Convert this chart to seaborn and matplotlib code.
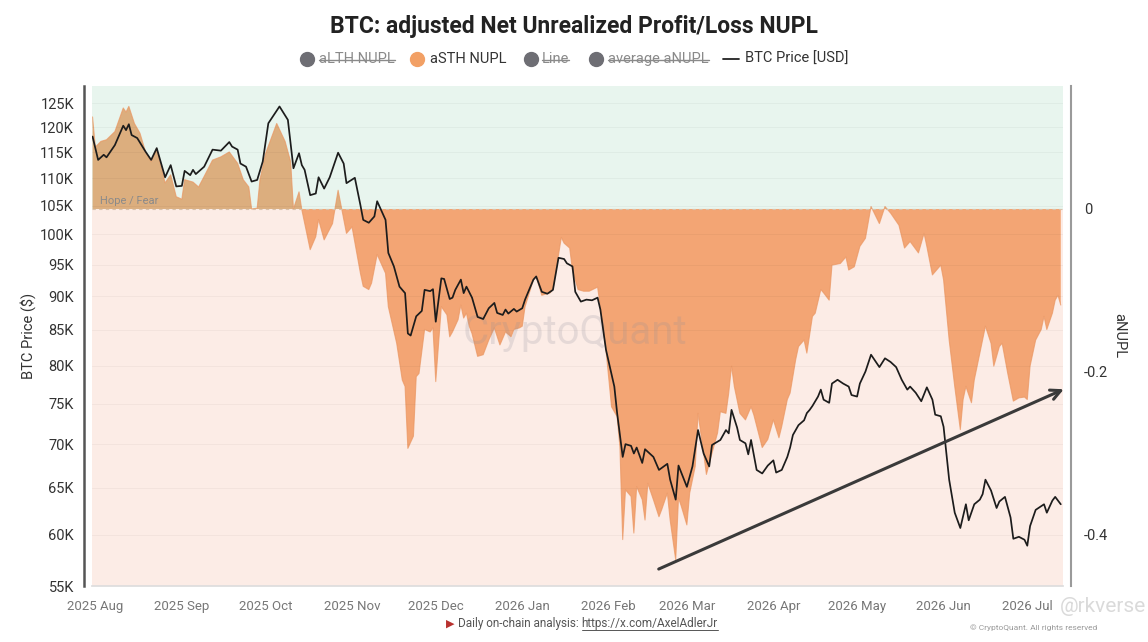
import numpy as np
import pandas as pd
import matplotlib
matplotlib.use("Agg")
import matplotlib.pyplot as plt
import matplotlib.dates as mdates
import matplotlib.ticker as mticker
from matplotlib.lines import Line2D
import seaborn as sns

# ---- data (days counted from 2025-08-01) ----
price_day = [-1, 1, 3, 4, 7, 10, 11, 12, 13, 15, 18, 20, 22, 25, 27, 29, 31, 32, 34, 35,
             36, 39, 42, 45, 48, 49, 51, 52, 54, 56, 58, 60, 62, 66, 69, 71, 73, 74, 75, 77,
             79, 80, 82, 84, 87, 89, 90, 93,
             95, 96, 98, 100, 101, 104, 105, 107, 109, 111, 112, 113, 115, 117, 118, 120, 121, 122, 124, 125,
             127, 128, 129, 131, 132, 133, 135, 137, 139, 141, 143, 144, 146, 147, 148, 150, 151, 153, 154, 157,
             158, 160, 162, 164, 166, 168, 169, 171, 172, 174,
             176, 178, 180, 181, 183, 186, 187, 189, 190, 192, 193, 194, 196, 197, 200, 202, 205, 206, 208, 209,
             212, 214, 216, 218, 220, 221, 224, 226, 227, 228, 230, 231, 233, 234,
             235, 237, 239, 241, 243, 244, 246, 248, 249, 250, 252, 254, 255, 256, 257, 258, 259, 260, 261, 263,
             264, 266, 268, 270, 271, 273, 274, 276, 278, 281, 283, 285, 287, 289, 291, 292, 294, 296, 298, 300,
             301, 303, 304, 306, 308, 310, 312, 313, 315, 317, 318, 319, 321, 323, 324, 326, 328, 329, 331, 333,
             334, 335, 337, 340, 341, 343, 344, 346]
price_k = [118.1, 113.5, 114.5, 114.0, 116.4, 120.3, 119.4, 120.6, 118.4, 117.8, 115.1, 113.5, 115.8, 110.2, 112.5, 108.5, 108.6, 111.4, 110.6, 111.6,
           110.8, 112.2, 115.5, 115.3, 117.0, 116.1, 115.5, 112.8, 112.2, 109.4, 109.7, 113.2, 120.8, 124.3, 121.5, 111.9, 114.8, 112.5, 111.6, 106.9,
           107.2, 110.2, 108.1, 110.2, 114.9, 112.8, 109.1, 110.1,
           105.1, 102.5, 102.0, 103.1, 105.8, 102.5, 96.9, 94.7, 91.5, 90.5, 84.5, 84.2, 87.0, 87.8, 91.0, 90.8, 91.1, 86.2, 92.8, 92.7,
           89.6, 89.8, 91.0, 92.6, 90.5, 91.5, 89.8, 86.9, 86.6, 88.2, 89.0, 87.5, 87.2, 88.0, 87.4, 88.1, 87.7, 88.2, 89.5, 92.6,
           93.1, 90.7, 90.4, 91.0, 96.1, 95.9, 95.2, 94.7, 90.7, 89.2,
           89.5, 89.4, 89.8, 88.0, 82.2, 77.2, 73.8, 68.5, 70.0, 69.8, 68.9, 69.6, 67.8, 69.4, 68.5, 67.0, 67.7, 65.9, 63.7, 67.5,
           65.1, 67.4, 71.7, 68.9, 67.4, 69.9, 70.5, 71.7, 71.3, 74.2, 72.0, 70.5, 70.1, 68.8,
           70.5, 67.0, 66.6, 67.5, 68.1, 66.7, 67.0, 68.5, 69.6, 71.1, 72.3, 72.9, 73.8, 74.2, 74.7, 75.3, 75.9, 76.8, 75.5, 75.1,
           77.6, 78.1, 77.6, 77.2, 76.1, 75.9, 77.6, 79.2, 81.5, 79.8, 81.0, 80.5, 79.8, 78.1, 76.8, 77.2, 76.4, 75.3, 77.1, 75.5,
           73.6, 73.4, 72.1, 65.9, 62.3, 60.7, 63.2, 61.5, 63.2, 63.7, 64.3, 65.9, 64.7, 62.8, 63.5, 64.0, 61.8, 59.6, 59.8, 59.5,
           58.9, 60.9, 62.6, 63.2, 62.3, 63.6, 64.0, 63.2]

nupl_day = [-1, 0, 2, 4, 7, 10, 11, 12, 14, 16, 18, 20, 22, 25, 27, 29, 31, 32, 35, 37,
            39, 42, 45, 48, 51, 53, 55, 56, 58, 59, 61, 65, 68, 70, 71, 73, 74,
            77, 79, 80, 82, 85, 87, 90, 92,
            95, 96, 98, 99, 101, 104, 105, 108, 110, 111, 112, 114, 115, 116, 118, 120, 121, 122, 124, 126,
            127, 128, 130, 131, 132, 133, 134, 135, 137, 139, 141, 143, 145, 146, 147, 149, 150, 152, 153, 154,
            157, 158, 160, 163, 164, 167, 168, 170, 171, 173,
            175, 177, 180, 181, 183, 185, 187, 188, 189, 190, 192, 193, 194, 196, 197, 198, 200, 202, 203, 205,
            206, 208, 209, 210, 212, 213, 215, 216, 218, 219, 221, 223, 224, 226, 227, 228, 229, 231, 233, 235,
            236, 239, 241, 243, 245, 246, 248, 249, 251, 252, 254, 255, 257, 258, 260, 261, 263, 264, 267, 269,
            270, 272, 274, 276, 278, 281, 283, 285, 288, 290, 292, 295, 297, 298, 300, 303, 304, 306, 308, 310,
            311, 312, 314, 315, 317, 319, 321, 322, 324, 325, 327, 329, 331, 333, 334, 335, 337, 339, 340, 341,
            343, 344, 345, 346]
nupl_val = [0.113, 0.076, 0.083, 0.085, 0.095, 0.124, 0.119, 0.126, 0.105, 0.093, 0.070, 0.058, 0.074, 0.032, 0.042, 0.015, 0.012, 0.036, 0.033, 0.027,
            0.040, 0.060, 0.064, 0.070, 0.056, 0.036, 0.027, 0.0, 0.001, 0.036, 0.068, 0.105, 0.083, 0.058, 0.0, 0.021, -0.001,
            -0.050, -0.034, -0.013, -0.038, -0.018, 0.023, -0.030, -0.022,
            -0.079, -0.095, -0.099, -0.091, -0.056, -0.079, -0.120, -0.165, -0.210, -0.218, -0.294, -0.279, -0.206, -0.202, -0.148, -0.151, -0.146, -0.212, -0.120, -0.130,
            -0.157, -0.151, -0.136, -0.118, -0.134, -0.128, -0.144, -0.153, -0.181, -0.179, -0.161, -0.146, -0.167, -0.159, -0.151, -0.157, -0.148, -0.146, -0.144, -0.120,
            -0.087, -0.083, -0.106, -0.103, -0.099, -0.035, -0.042, -0.048, -0.075, -0.099,
            -0.101, -0.101, -0.096, -0.120, -0.173, -0.243, -0.255, -0.292, -0.406, -0.345, -0.353, -0.398, -0.341, -0.357, -0.382, -0.337, -0.357, -0.378, -0.369, -0.349,
            -0.382, -0.431, -0.355, -0.365, -0.388, -0.349, -0.316, -0.251, -0.300, -0.326, -0.300, -0.275, -0.249, -0.251, -0.226, -0.193, -0.218, -0.251, -0.259, -0.243,
            -0.253, -0.293, -0.283, -0.259, -0.281, -0.267, -0.234, -0.226, -0.185, -0.169, -0.161, -0.177, -0.132, -0.128, -0.099, -0.103, -0.112, -0.069, -0.067, -0.059,
            -0.075, -0.071, -0.046, -0.036, 0.003, -0.018, 0.003, -0.005, -0.020, -0.048, -0.040, -0.054, -0.030, -0.046, -0.081, -0.069, -0.087, -0.161, -0.218, -0.271,
            -0.234, -0.218, -0.238, -0.210, -0.177, -0.144, -0.165, -0.193, -0.169, -0.165, -0.202, -0.236, -0.232, -0.231, -0.234, -0.193, -0.161, -0.148, -0.132, -0.148,
            -0.128, -0.112, -0.106, -0.118]

price_ticks = [55000, 60000, 65000, 70000, 75000, 80000, 85000, 90000, 95000,
               100000, 105000, 110000, 115000, 120000, 125000]
nupl_ticks = [0, -0.2, -0.4]
nupl_tick_labels = ["0", "-0.2", "-0.4"]

trend_dates = ["2026-02-18", "2026-07-15"]
trend_prices = [56500, 77000]

legend_labels = ["aLTH NUPL", "aSTH NUPL", "Line", "average aNUPL", "BTC Price [USD]"]

GREEN = "#e8f5ee"
PINK = "#fcece6"
ORANGE = "#f3a574"
TAN = "#dcae7e"
EDGE = "#ea9560"

sns.set_theme(style="white")
plt.rcParams['font.family'] = ['Roboto', 'DejaVu Sans']

base = pd.Timestamp("2025-08-01")
price = pd.DataFrame({"date": base + pd.to_timedelta(price_day, unit="D"),
                      "price": np.array(price_k) * 1000})
nupl = pd.DataFrame({"date": base + pd.to_timedelta(nupl_day, unit="D"),
                     "anupl": nupl_val})

W, H = 1148, 642
fig = plt.figure(figsize=(W / 100, H / 100), dpi=100)
ax = fig.add_axes([92 / W, 56 / H, 971 / W, 500 / H])
ax2 = ax.twinx()
ax.yaxis.tick_right()
ax.yaxis.set_label_position('right')
ax2.yaxis.tick_left()
ax2.yaxis.set_label_position('left')

# aNUPL side (background zones + area)
ylo, yhi = -0.463, 0.151
ax.axhspan(0, yhi, color=GREEN, lw=0, zorder=0)
ax.axhspan(ylo, 0, color=PINK, lw=0, zorder=0)
d = nupl["date"]
v = nupl["anupl"].to_numpy()
ax.fill_between(d, v, 0, where=v >= 0, interpolate=True, color=TAN, lw=0, zorder=1)
ax.fill_between(d, v, 0, where=v <= 0, interpolate=True, color=ORANGE, lw=0, zorder=1)
sns.lineplot(data=nupl, x="date", y="anupl", ax=ax, color=EDGE, lw=0.8, alpha=0.7, zorder=2)
ax.axhline(0, color="#d8c2ac", lw=0.8, ls=(0, (3, 3)), zorder=2)
ax.text(base + pd.Timedelta(days=1.5), 0.004, "Hope / Fear", fontsize=8, color="#8a8a8a",
        va="bottom", ha="left", zorder=3)

ax.set_ylim(ylo, yhi)
ax.set_xlim(base - pd.Timedelta(days=1.2), base + pd.Timedelta(days=346.8))
ax.set_yticks(nupl_ticks)
ax.set_yticklabels(nupl_tick_labels)
ax.set_ylabel("aNUPL", rotation=270, fontsize=10.5, color="#333333", labelpad=13)
ax.set_xlabel("")
ax.xaxis.set_major_locator(mdates.MonthLocator())
ax.xaxis.set_major_formatter(mdates.DateFormatter("%Y %b"))
ax.tick_params(axis="x", length=4, color="#dddddd", labelsize=9.5, labelcolor="#777777", pad=6)
ax.tick_params(axis="y", length=0, labelsize=10.5, labelcolor="#333333", pad=9)

# price side
sns.lineplot(data=price, x="date", y="price", ax=ax2, color="#1c1c1c", lw=1.25, zorder=4)
ax2.set_yscale("log")
ax2.set_ylim(55000, 128700)
ax2.yaxis.set_major_locator(mticker.FixedLocator(price_ticks))
ax2.yaxis.set_major_formatter(mticker.FuncFormatter(lambda x, p: f"{int(round(x / 1000))}K"))
ax2.yaxis.set_minor_locator(mticker.NullLocator())
ax2.tick_params(axis="y", length=0, labelsize=10.5, labelcolor="#333333", pad=7)
ax2.set_ylabel("BTC Price ($)", fontsize=10.5, color="#333333", labelpad=3)
ax2.grid(axis="y", color="#000000", alpha=0.035, lw=0.8)
ax2.set_xlim(ax.get_xlim())

ax2.annotate("", xy=(pd.Timestamp(trend_dates[1]), trend_prices[1]),
             xytext=(pd.Timestamp(trend_dates[0]), trend_prices[0]),
             arrowprops=dict(arrowstyle="->", color="#3a3a3a", lw=2.2, mutation_scale=18),
             annotation_clip=False, zorder=5)

ax2.text(0.497, 0.506, "CryptoQuant", transform=ax2.transAxes, fontsize=29,
         color="#8c8c9a", alpha=0.2, ha="center", va="center", zorder=3)

# spines
for s in ["top", "left"]:
    ax.spines[s].set_visible(False)
ax.spines["bottom"].set_color("#dddddd")
ax.spines["right"].set_position(("outward", 6))
ax.spines["right"].set_color("#9a9a9a")
ax.spines["right"].set_linewidth(1.5)
for s in ["top", "right", "bottom"]:
    ax2.spines[s].set_visible(False)
ax2.spines["left"].set_position(("outward", 6))
ax2.spines["left"].set_color("#555555")
ax2.spines["left"].set_linewidth(1.8)

# title
fig.text(0.5, 1 - 26 / H, "BTC: adjusted Net Unrealized Profit/Loss NUPL", ha="center", va="center",
         fontsize=16.5, weight="bold", color="#222222")

# legend (drawn by hand so hidden series can be struck through)
ly = 1 - 59 / H
marker_x = [307, 417, 531, 596]
text_x = [319, 430, 542, 608, 745]
marker_col = ["#6e6e74", "#f2a065", "#6e6e74", "#6e6e74"]
struck = [True, False, True, True, False]
leg_texts = []
for i, lab in enumerate(legend_labels):
    if i < 4:
        fig.add_artist(Line2D([marker_x[i] / W], [ly], marker="o", ms=10, color=marker_col[i],
                              lw=0, transform=fig.transFigure))
    else:
        fig.add_artist(Line2D([723 / W, 739 / W], [ly, ly], color="#222222", lw=1.3,
                              transform=fig.transFigure))
    t = fig.text(text_x[i] / W, ly, lab, ha="left", va="center", fontsize=10.5,
                 color="#8a8a8a" if struck[i] else "#333333")
    leg_texts.append(t)

# footer
fig.text(446 / W, 1 - 624 / H, "\u25B6", color="#b8312f", fontsize=8, ha="left", va="center",
         family=["DejaVu Sans"])
pre = fig.text(458 / W, 1 - 624 / H, "Daily on-chain analysis: ", fontsize=8.5, color="#555555",
               ha="left", va="center")
fig.text(1097 / W, 1 - 628 / H, "\u00A9 CryptoQuant. All rights reserved", fontsize=6,
         color="#9a9a9a", ha="right", va="center")
fig.text(1146 / W, 1 - 606 / H, "@rkverse", fontsize=15, color="#dadada", ha="right", va="center")

fig.canvas.draw()
r = fig.canvas.get_renderer()
inv = fig.transFigure.inverted()
for t, s in zip(leg_texts, struck):
    if s:
        bb = t.get_window_extent(r)
        ym = bb.y0 + bb.height * 0.45
        (x0, y0), (x1, _) = inv.transform([(bb.x0, ym), (bb.x1, ym)])
        fig.add_artist(Line2D([x0, x1], [y0, y0], color="#8a8a8a", lw=1, transform=fig.transFigure))
bb = pre.get_window_extent(r)
ux = inv.transform((bb.x1, bb.y0))[0]
url = fig.text(ux, 1 - 624 / H, "https://x.com/AxelAdlerJr", fontsize=8.5, color="#555555",
               ha="left", va="center")
fig.canvas.draw()
ub = url.get_window_extent(r)
(ux0, uy0), (ux1, _) = inv.transform([(ub.x0, ub.y0 + 1), (ub.x1, ub.y0 + 1)])
fig.add_artist(Line2D([ux0, ux1], [uy0, uy0], color="#555555", lw=0.7, transform=fig.transFigure))

fig.savefig("out.png", dpi=100)
